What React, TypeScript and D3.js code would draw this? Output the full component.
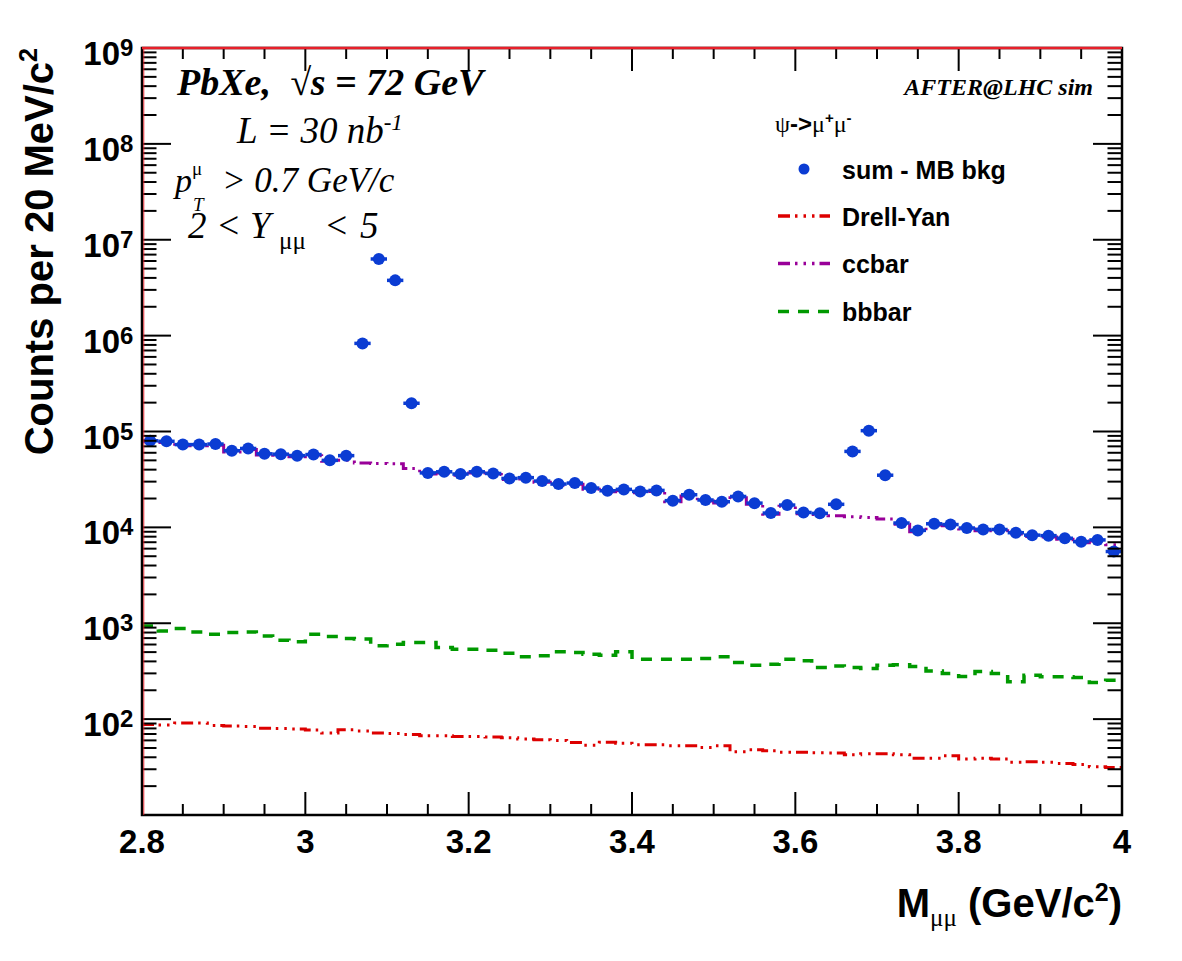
import React, { useEffect, useRef } from "react";
import * as d3 from "d3";

// bin centres of the 20 MeV mass bins, 2.81 .. 3.99 GeV/c2
const binCenters = d3.range(60).map((i) => +(2.81 + 0.02 * i).toFixed(2));

// sum - MB bkg (blue points)
const sumMB = [
  8.0e4, 7.9e4, 7.3e4, 7.3e4, 7.4e4, 6.3e4, 6.65e4, 5.85e4, 5.8e4, 5.6e4,
  5.75e4, 5.0e4, 5.6e4, 8.3e5, 6.3e6, 3.77e6, 1.97e5, 3.7e4, 3.8e4, 3.6e4,
  3.8e4, 3.65e4, 3.24e4, 3.3e4, 3.04e4, 2.83e4, 2.9e4, 2.57e4, 2.41e4, 2.49e4,
  2.37e4, 2.43e4, 1.9e4, 2.19e4, 1.93e4, 1.85e4, 2.1e4, 1.79e4, 1.41e4, 1.71e4,
  1.43e4, 1.4e4, 1.74e4, 6.2e4, 1.02e5, 3.5e4, 1.11e4, 9.3e3, 1.09e4, 1.07e4,
  9.85e3, 9.5e3, 9.5e3, 8.8e3, 8.3e3, 8.2e3, 7.7e3, 7.1e3, 7.4e3, 5.6e3,
];

// ccbar histogram
const ccbar = [
  7.8e4, 7.7e4, 7.1e4, 7.1e4, 7.2e4, 6.1e4, 6.5e4, 5.7e4, 5.65e4, 5.45e4,
  5.6e4, 4.9e4, 5.0e4, 4.7e4, 4.65e4, 4.6e4, 4.1e4, 3.6e4, 3.7e4, 3.5e4,
  3.7e4, 3.55e4, 3.15e4, 3.2e4, 2.95e4, 2.75e4, 2.82e4, 2.5e4, 2.35e4, 2.42e4,
  2.3e4, 2.36e4, 1.85e4, 2.12e4, 1.88e4, 1.8e4, 2.04e4, 1.74e4, 1.37e4, 1.66e4,
  1.39e4, 1.36e4, 1.32e4, 1.29e4, 1.27e4, 1.22e4, 1.08e4, 9.0e3, 1.06e4, 1.04e4,
  9.6e3, 9.2e3, 9.2e3, 8.55e3, 8.05e3, 7.95e3, 7.5e3, 6.9e3, 7.2e3, 6.6e3,
];

// Drell-Yan histogram
const drellYan = [
  88, 87, 91, 91, 86, 85, 84, 80.5, 80, 79,
  77, 71.5, 77.5, 75, 71.5, 71, 69, 67, 67, 66,
  66, 65, 64, 62, 61, 60, 57, 53.5, 57.5, 56,
  54, 54, 52.7, 52.7, 50.7, 52.7, 45.7, 47.9, 46.8, 45,
  45, 44.6, 44.3, 42.5, 43.5, 43.5, 42.5, 39, 39, 41.5,
  38.3, 39, 38.3, 35.4, 36, 35.4, 34.5, 33.7, 31.8, 31.2,
];

// bbbar histogram
const bbbar = [
  938, 832, 880, 812, 768, 800, 812, 738, 665, 640,
  768, 726, 692, 686, 581, 604, 630, 630, 557, 535,
  535, 523, 487, 446, 457, 503, 494, 475, 465, 503,
  422, 422, 422, 422, 430, 446, 389, 365, 374, 422,
  406, 345, 359, 345, 337, 365, 368, 354, 318, 299,
  278, 314, 299, 245, 287, 276, 276, 272, 241, 255,
];

const xTicks = [2.8, 3, 3.2, 3.4, 3.6, 3.8, 4];
const yDecades = [1, 2, 3, 4, 5, 6, 7, 8, 9];

const SANS = "'Liberation Sans', Arial, Helvetica, sans-serif";
const SERIF = "'Liberation Serif', 'Times New Roman', serif";
const BLUE = "#0b3cd3";
const RED = "#dd0000";
const PURPLE = "#990099";
const GREEN = "#009900";
const DASHDOT = "12 5 2.5 6 2.5 6 2.5 5";
const DASH = "11 9";

const W = 1182;
const H = 961;

const App: React.FC = () => {
  const ref = useRef<SVGSVGElement>(null);

  useEffect(() => {
    if (!ref.current) return;
    const svg = d3.select(ref.current);
    svg.selectAll("*").remove();

    const x = d3.scaleLinear().domain([2.8, 4]).range([142, 1122]);
    const y = d3.scaleLog().domain([10, 1e9]).range([815, 48]);
    const [x0, x1] = x.range();
    const [y0, y1] = y.range();

    svg.append("rect").attr("width", W).attr("height", H).attr("fill", "white");

    svg
      .append("clipPath")
      .attr("id", "plot-clip")
      .append("rect")
      .attr("x", x0)
      .attr("y", y1)
      .attr("width", x1 - x0)
      .attr("height", y0 - y1);

    // histograms as steps over the bins
    const half = 0.01;
    const stepLine = d3
      .line<[number, number]>()
      .x((d) => x(d[0]))
      .y((d) => y(d[1]))
      .curve(d3.curveStepAfter);
    const histPts = (vals: number[]): [number, number][] =>
      binCenters
        .map((c, i) => [c - half, vals[i]] as [number, number])
        .concat([[binCenters[binCenters.length - 1] + half, vals[vals.length - 1]]]);

    const plot = svg.append("g").attr("clip-path", "url(#plot-clip)");
    const hists = [
      { vals: bbbar, color: GREEN, dash: DASH, w: 3.5 },
      { vals: drellYan, color: RED, dash: DASHDOT, w: 3 },
      { vals: ccbar, color: PURPLE, dash: DASHDOT, w: 3 },
    ];
    hists.forEach((h) => {
      plot
        .append("path")
        .attr("d", stepLine(histPts(h.vals)))
        .attr("fill", "none")
        .attr("stroke", h.color)
        .attr("stroke-width", h.w)
        .attr("stroke-dasharray", h.dash);
    });

    // data points with bin-width error bars
    const pts = plot.append("g");
    pts
      .selectAll("line")
      .data(binCenters)
      .enter()
      .append("line")
      .attr("x1", (c) => x(c - half))
      .attr("x2", (c) => x(c + half))
      .attr("y1", (c, i) => y(sumMB[i]))
      .attr("y2", (c, i) => y(sumMB[i]))
      .attr("stroke", BLUE)
      .attr("stroke-width", 3.5);
    pts
      .selectAll("circle")
      .data(binCenters)
      .enter()
      .append("circle")
      .attr("cx", (c) => x(c))
      .attr("cy", (c, i) => y(sumMB[i]))
      .attr("r", 6)
      .attr("fill", BLUE);

    // frame
    const axes = svg.append("g").attr("stroke", "black").attr("stroke-width", 2);
    const xMinor = d3.range(2.8, 4.0001, 0.05).map((v) => +v.toFixed(2));
    xMinor.forEach((v) => {
      const major = xTicks.some((t) => Math.abs(t - v) < 1e-6);
      const len = major ? 23 : 11;
      axes.append("line").attr("x1", x(v)).attr("x2", x(v)).attr("y1", y0).attr("y2", y0 - len);
      axes.append("line").attr("x1", x(v)).attr("x2", x(v)).attr("y1", y1).attr("y2", y1 + len);
    });
    yDecades.forEach((e) => {
      for (let k = 1; k <= 9; k++) {
        const v = k * Math.pow(10, e);
        if (v > 1e9 || (e === 9 && k > 1)) continue;
        const len = k === 1 ? 29 : 14.5;
        axes.append("line").attr("x1", x0).attr("x2", x0 + len).attr("y1", y(v)).attr("y2", y(v));
        axes.append("line").attr("x1", x1).attr("x2", x1 - len).attr("y1", y(v)).attr("y2", y(v));
      }
    });
    svg
      .append("rect")
      .attr("x", x0)
      .attr("y", y1)
      .attr("width", x1 - x0)
      .attr("height", y0 - y1)
      .attr("fill", "none")
      .attr("stroke", "black")
      .attr("stroke-width", 2.5);
    svg.append("line").attr("x1", x0).attr("x2", x1).attr("y1", y1).attr("y2", y1)
      .attr("stroke", "#e8202a").attr("stroke-width", 2.5);
    svg.append("line").attr("x1", x0 + 1.8).attr("x2", x0 + 1.8).attr("y1", y1).attr("y2", y0)
      .attr("stroke", "#e8202a").attr("stroke-width", 0.9);

    // x tick labels
    svg
      .append("g")
      .selectAll("text")
      .data(xTicks)
      .enter()
      .append("text")
      .attr("x", (d) => x(d))
      .attr("y", 853)
      .attr("text-anchor", "middle")
      .attr("font-family", SANS)
      .attr("font-weight", "bold")
      .attr("font-size", 33)
      .text((d) => d3.format("")(d));

    // y tick labels 10^n
    const yl = svg.append("g").attr("font-family", SANS).attr("font-weight", "bold");
    yDecades
      .filter((e) => e >= 2)
      .forEach((e) => {
        const ty = y(Math.pow(10, e));
        yl.append("text").attr("x", 120).attr("y", ty + 17).attr("text-anchor", "end")
          .attr("font-size", 33).text("10");
        yl.append("text").attr("x", 120).attr("y", ty + 8).attr("font-size", 24).text(String(e));
      });

    // axis titles
    const xt = svg
      .append("text")
      .attr("x", 1122)
      .attr("y", 917)
      .attr("text-anchor", "end")
      .attr("font-family", SANS)
      .attr("font-weight", "bold")
      .attr("font-size", 40);
    xt.append("tspan").text("M");
    xt.append("tspan").attr("dy", 9).attr("font-family", SERIF).attr("font-weight", "normal")
      .attr("font-size", 25).text("μμ");
    xt.append("tspan").attr("dy", -9).text(" (GeV/c");
    xt.append("tspan").attr("dy", -16).attr("font-size", 25).text("2");
    xt.append("tspan").attr("dy", 16).text(")");

    const yt = svg
      .append("text")
      .attr("transform", "translate(53,48) rotate(-90)")
      .attr("text-anchor", "end")
      .attr("font-family", SANS)
      .attr("font-weight", "bold")
      .attr("font-size", 40);
    yt.append("tspan").text("Counts per 20 MeV/c");
    yt.append("tspan").attr("dy", -16).attr("font-size", 25).text("2");

    // annotations
    const ann = svg.append("g").attr("font-family", SERIF).attr("font-style", "italic");
    ann.append("text").attr("x", 177).attr("y", 95).attr("font-size", 38).attr("font-weight", "bold")
      .attr("xml:space", "preserve").text("PbXe,  √s = 72 GeV");
    const lum = ann.append("text").attr("x", 237).attr("y", 143).attr("font-size", 37)
      .attr("xml:space", "preserve");
    lum.append("tspan").text("L = 30 nb");
    lum.append("tspan").attr("dy", -13).attr("font-size", 23).text("-1");
    ann.append("text").attr("x", 175).attr("y", 192).attr("font-size", 34).text("p");
    ann.append("text").attr("x", 192).attr("y", 175).attr("font-size", 19).attr("font-style", "normal").text("μ");
    ann.append("text").attr("x", 193).attr("y", 211).attr("font-size", 19).text("T");
    ann.append("text").attr("x", 222).attr("y", 192).attr("font-size", 35).text("> 0.7 GeV/c");
    const rap = ann.append("g").attr("font-size", 37);
    rap.append("text").attr("x", 188).attr("y", 238).text("2");
    rap.append("text").attr("x", 216).attr("y", 238).text("<");
    rap.append("text").attr("x", 250).attr("y", 238).text("Y");
    rap.append("text").attr("x", 279).attr("y", 249).attr("font-size", 25).attr("font-style", "normal").text("μμ");
    rap.append("text").attr("x", 324).attr("y", 238).text("<");
    rap.append("text").attr("x", 360).attr("y", 238).text("5");
    ann.append("text").attr("x", 1093).attr("y", 95).attr("text-anchor", "end").attr("font-size", 24)
      .attr("font-weight", "bold").text("AFTER@LHC sim");

    // legend
    const lg = svg.append("g");
    const hdr = lg.append("text").attr("x", 775).attr("y", 132).attr("font-size", 24);
    hdr.append("tspan").attr("font-family", SERIF).text("ψ");
    hdr.append("tspan").attr("font-family", SANS).attr("font-weight", "bold").text("->");
    hdr.append("tspan").attr("font-family", SERIF).text("μ");
    hdr.append("tspan").attr("font-family", SANS).attr("font-weight", "bold").attr("font-size", 15).attr("dy", -9).text("+");
    hdr.append("tspan").attr("font-family", SERIF).attr("dy", 9).text("μ");
    hdr.append("tspan").attr("font-family", SANS).attr("font-weight", "bold").attr("font-size", 15).attr("dy", -9).text("-");

    const entries = [
      { label: "sum - MB bkg", y: 169, kind: "marker", color: BLUE, dash: "" },
      { label: "Drell-Yan", y: 216, kind: "line", color: RED, dash: DASHDOT },
      { label: "ccbar", y: 263.5, kind: "line", color: PURPLE, dash: DASHDOT },
      { label: "bbbar", y: 311.5, kind: "line", color: GREEN, dash: DASH },
    ];
    entries.forEach((en) => {
      if (en.kind === "marker") {
        lg.append("circle").attr("cx", 804).attr("cy", en.y).attr("r", 5.5).attr("fill", en.color);
      } else {
        lg.append("line").attr("x1", 778).attr("x2", 830).attr("y1", en.y).attr("y2", en.y)
          .attr("stroke", en.color).attr("stroke-width", 3.3).attr("stroke-dasharray", en.dash);
      }
      lg.append("text").attr("x", 842).attr("y", en.y + 9.5).attr("font-family", SANS)
        .attr("font-weight", "bold").attr("font-size", 25).text(en.label);
    });
  }, []);

  return (
    <svg
      ref={ref}
      width={W}
      height={H}
      style={{ position: "absolute", left: 0, top: 0, display: "block" }}
    />
  );
};

export default App;
